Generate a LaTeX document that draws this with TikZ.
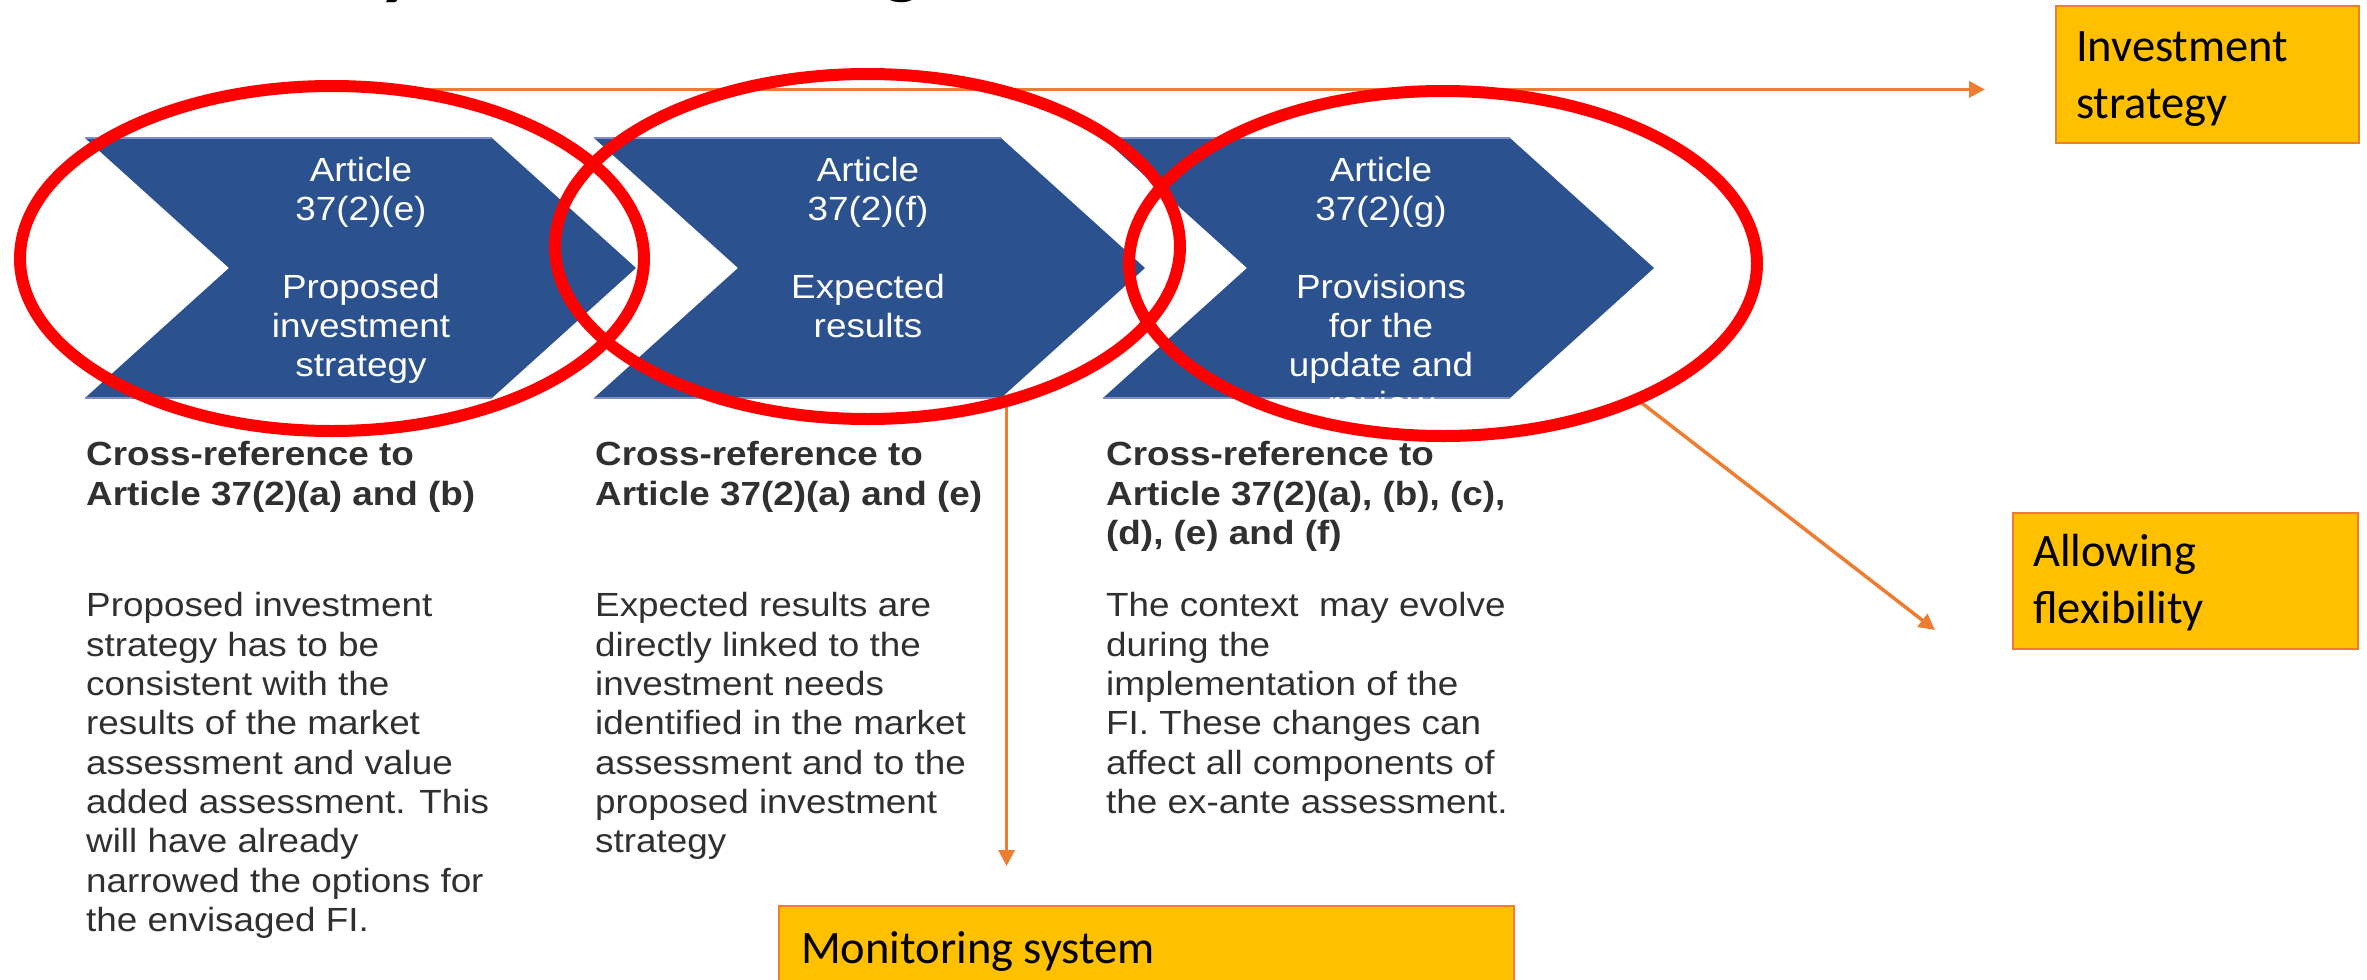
\documentclass[tikz,border=0pt]{standalone}
\usepackage{fontspec}
\newfontfamily\arialx[FakeStretch=1.1]{Liberation Sans}
\newfontfamily\calib{Carlito}
\usetikzlibrary{shapes.geometric,arrows.meta}
\pgfdeclarelayer{fg}
\pgfsetlayers{main,fg}
\definecolor{chevblue}{RGB}{44,81,143}
\definecolor{chevedge}{RGB}{128,140,196}
\definecolor{txtgray}{RGB}{48,48,48}
\definecolor{orng}{RGB}{237,125,49}
\definecolor{ylw}{RGB}{255,192,0}
\tikzset{
 chevshape/.style={fill=chevblue},
 chevline/.style={draw=chevedge, line width=2pt},
 ctext/.style={font={\arialx\fontsize{33.5pt}{39pt}\selectfont}, text=white, align=center, inner sep=0pt, anchor=north},
 xref/.style={font={\arialx\bfseries\fontsize{33.5pt}{39.3pt}\selectfont}, text=txtgray, align=left, inner sep=0pt, anchor=north west},
 bodytext/.style={font={\arialx\fontsize{33.5pt}{39.3pt}\selectfont}, text=txtgray, align=left, inner sep=0pt, anchor=north west},
 redell/.style={ellipse, draw=red, line width=12pt, inner sep=0pt, outer sep=0pt},
 oarrow/.style={draw=orng, line width=3.5pt, -{Triangle[length=16pt,width=16pt]}},
 ybox/.style={rectangle, draw=orng, fill=ylw, line width=2.5pt, inner sep=0pt, outer sep=0pt, anchor=north west},
 ytext/.style={font={\calib\fontsize{46.5pt}{57pt}\selectfont}, text=black, align=left, inner sep=0pt, anchor=north west},
 titlefrag/.style={font={\calib\bfseries\fontsize{84pt}{90pt}\selectfont}, text=black, inner sep=0pt, anchor=base west},
}
\begin{document}
\begin{tikzpicture}[x=1pt,y=-1pt]
\useasboundingbox (0,0) rectangle (2367,980);
\fill[white] (0,0) rectangle (2367,980);

% title fragments (only the lowest tips of the descenders show)
\begin{scope}
\clip (0,0) rectangle (2367,7);
\node[titlefrag] (ty) at (378,-11) {y};
\node[titlefrag] (tg) at (882,-12) {g};
\end{scope}

% chevrons
\foreach \cx in {85,594,1103} {
  \fill[chevshape] (\cx,138) -- ++(407,0) -- ++(144,130) -- ++(-144,130) -- ++(-407,0) -- ++(144,-130) -- cycle;
  \draw[chevline] (\cx,138) -- ++(407,0) (\cx,398) -- ++(407,0);
}

% chevron texts
\node[ctext] (t1) at (361,157.5) {Article\\37(2)(e)\\[39pt]Proposed\\investment\\strategy};
\node[ctext] (t2) at (868,157.5) {Article\\37(2)(f)\\[39pt]Expected\\results};
\begin{scope}
\clip (1103,138) -- ++(407,0) -- ++(144,130) -- ++(-144,130) -- ++(-407,0) -- ++(144,-130) -- cycle;
\node[ctext] (t3) at (1381,157.5) {Article\\37(2)(g)\\[39pt]Provisions\\for the\\update and\\review};
\end{scope}

% cross references
\node[xref] (x1) at (86,441.5) {Cross-reference to\\Article 37(2)(a) and (b)};
\node[xref] (x2) at (595,441.5) {Cross-reference to\\Article 37(2)(a) and (e)};
\node[xref] (x3) at (1106,441.5) {Cross-reference to\\Article 37(2)(a), (b), (c),\\(d), (e) and (f)};

% body texts
\node[bodytext] (b1) at (86,592.5) {Proposed investment\\strategy has to be\\consistent with the\\results of the market\\assessment and value\\added assessment. This\\will have already\\narrowed the options for\\the envisaged FI.};
\node[bodytext] (b2) at (595,592.5) {Expected results are\\directly linked to the\\investment needs\\identified in the market\\assessment and to the\\proposed investment\\strategy};
\node[bodytext] (b3) at (1106,592.5) {The context~ may evolve\\during the\\implementation of the\\FI. These changes can\\affect all components of\\the ex-ante assessment.};

% yellow boxes
\node[ybox, minimum width=303pt, minimum height=137pt] (inv) at (2056,6) {};
\node[ytext] (invt) at (2076,31) {Investment\\strategy};
\node[ybox, minimum width=345pt, minimum height=136pt] (flex) at (2013,513) {};
\node[ytext] (flext) at (2033,534) {Allowing\\flexibility};
\node[ybox, minimum width=735pt, minimum height=110pt] (mon) at (779,906) {};
\node[ytext] (mont) at (801,931) {Monitoring system};

% arrow tips
\coordinate (invTip) at (1985,86);
\coordinate (monTip) at (1004,866);
\coordinate (flexTip) at (1935,630);

% red ellipses on top
\begin{pgfonlayer}{fg}
\node[redell, minimum width=624pt, minimum height=345pt] (e1) at (332,258.5) {};
\node[redell, minimum width=625pt, minimum height=345pt] (e2) at (867.5,246.5) {};
\node[redell, minimum width=628pt, minimum height=345pt] (e3) at (1443,263.5) {};
\end{pgfonlayer}

% connectors
\draw[oarrow] (e1.70) -- (e1.70 -| invTip);
\draw[oarrow] (e2.-48) -- (e2.-48 |- monTip);
\draw[oarrow] (e3.-35) -- (flexTip);
\end{tikzpicture}
\end{document}
